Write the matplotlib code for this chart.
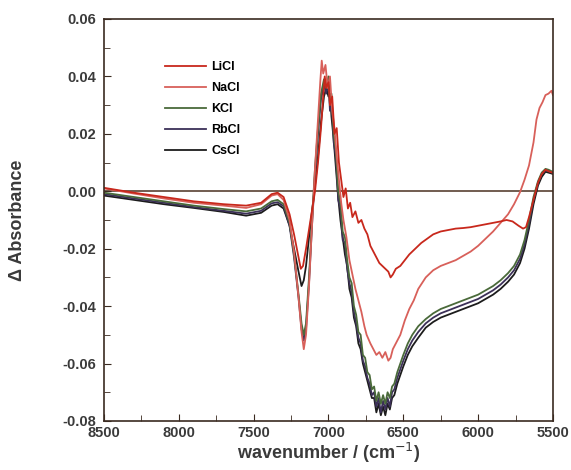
import numpy as np
import matplotlib.pyplot as plt

plt.rcParams['font.family'] = ['Liberation Sans', 'DejaVu Sans']

# wavenumber / absorbance readings, one pair of lists per salt
licl_wn = [8500, 8300, 8100, 7900, 7700, 7550, 7450, 7380, 7340, 7300, 7260, 7230, 7200, 7185,
           7170, 7150, 7120, 7090, 7070, 7050, 7035, 7025, 7015, 7000, 6990, 6975, 6960, 6945,
           6930, 6915, 6900, 6885, 6870, 6855, 6840, 6820, 6800, 6780, 6760, 6740, 6720, 6700,
           6680, 6660, 6640, 6620, 6600, 6585, 6570, 6550, 6520, 6490, 6460, 6420, 6380, 6340,
           6300, 6250, 6200, 6150, 6100, 6050, 6000, 5950, 5900, 5850, 5810, 5770, 5730, 5700,
           5680, 5660, 5640, 5620, 5600, 5575, 5550, 5530, 5510, 5500]
licl_abs = [0.0012, -0.0005, -0.002, -0.0035, -0.0045, -0.005, -0.004, -0.001, -0.0005, -0.002,
            -0.008, -0.015, -0.023, -0.027, -0.026, -0.020, -0.010, 0.000, 0.010, 0.022, 0.033,
            0.040, 0.036, 0.038, 0.030, 0.033, 0.020, 0.022, 0.010, 0.004, -0.002, 0.001, -0.006,
            -0.004, -0.009, -0.007, -0.011, -0.010, -0.013, -0.015, -0.019, -0.021, -0.023,
            -0.025, -0.026, -0.027, -0.028, -0.030, -0.029, -0.027, -0.026, -0.024, -0.022,
            -0.020, -0.018, -0.0165, -0.015, -0.014, -0.0135, -0.013, -0.0128, -0.0125, -0.012,
            -0.0115, -0.011, -0.0105, -0.010, -0.0105, -0.012, -0.013, -0.0125, -0.009, -0.005,
            -0.001, 0.003, 0.006, 0.0075, 0.007, 0.0066, 0.0065]

nacl_wn = [8500, 8300, 8100, 7900, 7700, 7550, 7450, 7380, 7340, 7300, 7260, 7230, 7200, 7180,
           7165, 7150, 7130, 7110, 7090, 7070, 7055, 7045, 7035, 7020, 7005, 6990, 6975, 6960,
           6945, 6930, 6915, 6900, 6880, 6860, 6840, 6820, 6800, 6780, 6760, 6745, 6720, 6700,
           6680, 6660, 6640, 6620, 6600, 6585, 6570, 6550, 6520, 6490, 6460, 6430, 6400, 6350,
           6300, 6250, 6200, 6150, 6100, 6050, 6000, 5950, 5900, 5850, 5800, 5760, 5720, 5690,
           5660, 5630, 5610, 5590, 5570, 5550, 5530, 5510, 5500]
nacl_abs = [0.001, -0.0008, -0.0025, -0.004, -0.005, -0.0058, -0.0045, -0.0015, -0.001, -0.003,
            -0.010, -0.021, -0.037, -0.049, -0.055, -0.050, -0.033, -0.012, 0.008, 0.025, 0.038,
            0.0455, 0.041, 0.044, 0.036, 0.040, 0.028, 0.022, 0.012, 0.004, -0.004, -0.010,
            -0.016, -0.024, -0.029, -0.034, -0.038, -0.042, -0.047, -0.050, -0.053, -0.055,
            -0.057, -0.056, -0.058, -0.056, -0.059, -0.058, -0.055, -0.053, -0.050, -0.045,
            -0.041, -0.038, -0.034, -0.030, -0.0275, -0.026, -0.025, -0.024, -0.0225, -0.021,
            -0.019, -0.0165, -0.014, -0.011, -0.008, -0.0045, -0.0003, 0.004, 0.009, 0.017,
            0.025, 0.029, 0.031, 0.0335, 0.034, 0.035, 0.0335]

# KCl, RbCl and CsCl were read on the same wavenumber points
black_wn = [8500, 8300, 8100, 7900, 7700, 7550, 7450, 7380, 7340, 7300, 7260, 7230, 7200, 7180,
            7165, 7150, 7130, 7110, 7090, 7070, 7050, 7030, 7015,
            7000, 6990, 6980, 6965, 6950, 6935, 6920, 6905, 6890, 6875, 6860, 6845, 6830, 6815,
            6800, 6785, 6770, 6755, 6740, 6725, 6710, 6695, 6680, 6665, 6650, 6635, 6620, 6605,
            6590, 6575, 6560, 6540,
            6520, 6500, 6470, 6440, 6400, 6350, 6300, 6250, 6200, 6150, 6100, 6050, 6000, 5950,
            5900, 5850, 5800, 5760, 5720, 5690, 5660, 5630, 5600, 5575, 5550, 5530, 5510, 5500]
kcl_abs = [-0.0005, -0.002, -0.0035, -0.005, -0.0062, -0.007, -0.006, -0.0035, -0.003, -0.0045,
           -0.011, -0.022, -0.036, -0.046, -0.050, -0.046, -0.030, -0.010, 0.008, 0.022, 0.034,
           0.039, 0.036,
           0.040, 0.030, 0.034, 0.020, 0.014, 0.000, -0.004, -0.014, -0.016, -0.024, -0.030,
           -0.032, -0.040, -0.043, -0.049, -0.050, -0.057, -0.058, -0.063, -0.064, -0.069,
           -0.068, -0.073, -0.070, -0.074, -0.071, -0.074, -0.070, -0.072, -0.068, -0.067, -0.063,
           -0.060, -0.057, -0.053, -0.050, -0.047, -0.0445, -0.0425, -0.041, -0.040, -0.039,
           -0.038, -0.037, -0.036, -0.0345, -0.033, -0.031, -0.0285, -0.026, -0.022, -0.017,
           -0.010, -0.002, 0.0035, 0.0065, 0.0078, 0.0075, 0.007, 0.0068]
rbcl_abs = [-0.001, -0.0025, -0.004, -0.0055, -0.0068, -0.0078, -0.0068, -0.0042, -0.0038,
            -0.0052, -0.012, -0.023, -0.037, -0.048, -0.052, -0.048, -0.032, -0.012, 0.006,
            0.020, 0.032, 0.037, 0.034,
            0.038, 0.028, 0.033, 0.017, 0.012, -0.003, -0.006, -0.017, -0.018, -0.027, -0.032,
            -0.035, -0.042, -0.046, -0.051, -0.053, -0.059, -0.061, -0.065, -0.067, -0.071,
            -0.070, -0.075, -0.072, -0.077, -0.073, -0.076, -0.072, -0.075, -0.070, -0.069, -0.065,
            -0.062, -0.059, -0.055, -0.052, -0.049, -0.046, -0.044, -0.0425, -0.0415, -0.0405,
            -0.0395, -0.0385, -0.0375, -0.036, -0.0345, -0.0325, -0.030, -0.0275, -0.0235,
            -0.0185, -0.0115, -0.003, 0.0028, 0.006, 0.0073, 0.007, 0.0066, 0.0064]
cscl_abs = [-0.0015, -0.003, -0.0045, -0.0058, -0.0072, -0.0085, -0.0075, -0.005, -0.0045,
            -0.006, -0.012, -0.020, -0.028, -0.033, -0.031, -0.026, -0.016, -0.007, 0.002,
            0.012, 0.024, 0.033, 0.036,
            0.033, 0.034, 0.026, 0.018, 0.008, -0.002, -0.010, -0.016, -0.022, -0.026, -0.034,
            -0.037, -0.044, -0.047, -0.053, -0.055, -0.060, -0.063, -0.066, -0.069, -0.072,
            -0.072, -0.077, -0.074, -0.078, -0.075, -0.078, -0.074, -0.076, -0.072, -0.071, -0.067,
            -0.064, -0.061, -0.057, -0.054, -0.051, -0.0475, -0.0455, -0.044, -0.043, -0.042,
            -0.041, -0.040, -0.039, -0.0375, -0.036, -0.034, -0.0315, -0.029, -0.025, -0.020,
            -0.013, -0.0045, 0.002, 0.005, 0.0068, 0.0065, 0.0062, 0.006]

labels = ['LiCl', 'NaCl', 'KCl', 'RbCl', 'CsCl']
colors = ['#c8281c', '#d8605a', '#4a6a3a', '#3c3058', '#1c1c1c']

fig = plt.figure(figsize=(5.71, 4.70), dpi=100)
ax = fig.add_axes([0.1821, 0.1043, 0.7863, 0.8553])

series = [(licl_wn, licl_abs), (nacl_wn, nacl_abs), (black_wn, kcl_abs),
          (black_wn, rbcl_abs), (black_wn, cscl_abs)]
# black traces first so the red ones sit on top
for i in [4, 3, 2, 1, 0]:
    wn, ab = series[i]
    ax.plot(wn, ab, color=colors[i], lw=1.3, label=labels[i])

ax.axhline(0, color='#4a3020', lw=1.1, zorder=0)

ax.set_xlim(8500, 5500)
ax.set_ylim(-0.08, 0.06)
ax.set_xticks(np.arange(8500, 5499, -500))
ax.set_xticks(np.arange(8250, 5500, -500), minor=True)
ax.set_yticks(np.arange(-0.08, 0.061, 0.02))
ax.set_yticks(np.arange(-0.07, 0.06, 0.02), minor=True)
ax.yaxis.set_major_formatter(plt.FormatStrFormatter('%.2f'))
ax.tick_params(which='both', direction='in', top=False, right=False,
               color='#3a2a20', labelcolor='#3a3a3a', labelsize=10.5)
ax.tick_params(which='major', length=5)
ax.tick_params(which='minor', length=4)
ax.tick_params(axis='y', which='major', pad=5.7)
for lab in ax.get_xticklabels() + ax.get_yticklabels():
    lab.set_fontweight('bold')
for sp in ax.spines.values():
    sp.set_color('#3a2a20')
    sp.set_linewidth(1.2)

ax.set_xlabel('wavenumber / (cm$^{-1}$)', fontsize=13, fontweight='bold', color='#3a3a3a', labelpad=1)
ax.set_ylabel('\u0394 Absorbance', fontsize=13, fontweight='bold', color='#3a3a3a', labelpad=26)

handles, labs = ax.get_legend_handles_labels()
order = [labs.index(l) for l in labels]
ax.legend([handles[k] for k in order], labels, loc='upper left', frameon=False,
          bbox_to_anchor=(0.136, 0.895), borderaxespad=0, borderpad=0,
          handlelength=3.3, handletextpad=0.4, labelspacing=0.72,
          prop={'size': 9, 'weight': 'bold'})

fig.savefig('out.png', dpi=100)
